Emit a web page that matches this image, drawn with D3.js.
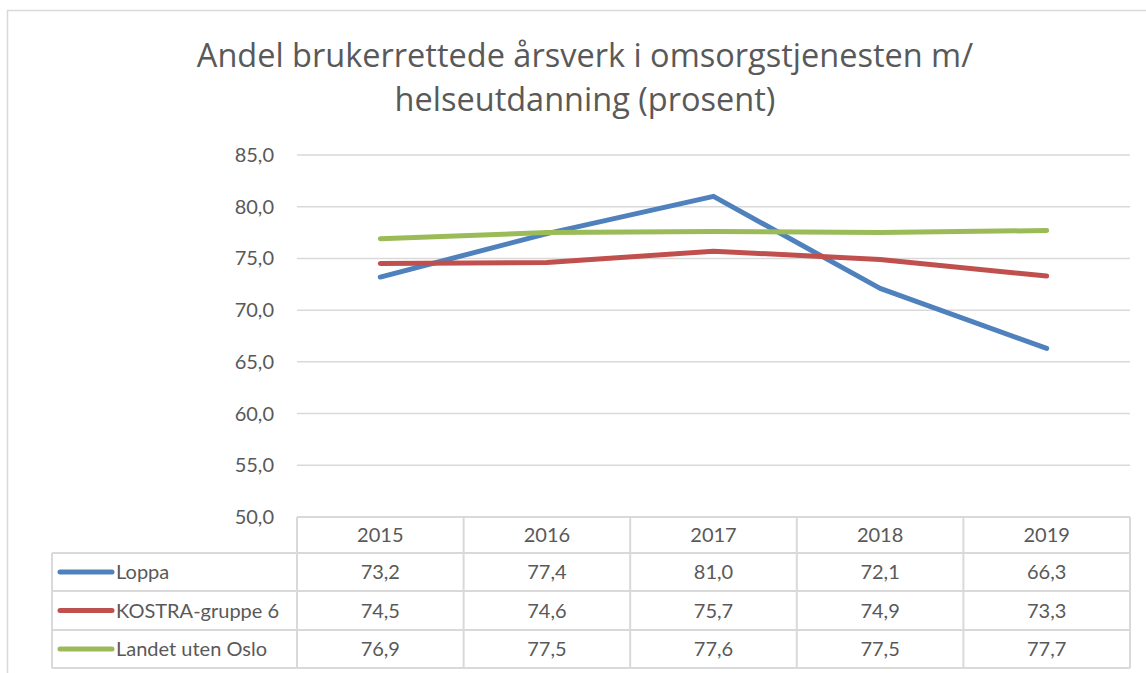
<!DOCTYPE html>
<html>
<head>
<meta charset="utf-8">
<script src="https://cdn.jsdelivr.net/npm/d3@7"></script>
<style>
  body { margin: 0; background: #fff; }
  svg { display: block; font-family: Lato, "Open Sans", sans-serif; }
</style>
</head>
<body>
<svg width="1146" height="673"></svg>
<script>
// Data ======================================================
var years = ["2015", "2016", "2017", "2018", "2019"];
var seriesNames = ["Loppa", "KOSTRA-gruppe 6", "Landet uten Oslo"];
var loppa = [73.2, 77.4, 81.0, 72.1, 66.3];
var kostra = [74.5, 74.6, 75.7, 74.9, 73.3];
var landet = [76.9, 77.5, 77.6, 77.5, 77.7];
var yTicks = [50, 55, 60, 65, 70, 75, 80, 85];
var titleLines = ["Andel brukerrettede årsverk i omsorgstjenesten m/", "helseutdanning (prosent)"];

var series = [
  { name: seriesNames[0], values: loppa, color: "#4f81bd" },
  { name: seriesNames[1], values: kostra, color: "#c0504d" },
  { name: seriesNames[2], values: landet, color: "#9bbb59" }
];

// Layout ====================================================
var svg = d3.select("svg");
var plotLeft = 297, plotRight = 1130, plotTop = 155, plotBottom = 517;
var rowH = [36, 38, 39, 38];
var tableLeft = 52;
var grey = "#d9d9d9", textCol = "#595959";
var fmt = function(v) { return d3.format(".1f")(v).replace(".", ","); };

var x = d3.scaleBand().domain(years).range([plotLeft, plotRight]);
var y = d3.scaleLinear().domain([50, 85]).range([plotBottom, plotTop]);

// chart frame
svg.append("rect")
  .attr("x", 7.5).attr("y", 10.5)
  .attr("width", 1150).attr("height", 700)
  .attr("fill", "none").attr("stroke", grey).attr("stroke-width", 1.5);

// title
svg.append("g").selectAll("text")
  .data(titleLines)
  .enter().append("text")
  .attr("x", 585)
  .attr("y", function(d, i) { return 67 + i * 44; })
  .attr("text-anchor", "middle")
  .attr("fill", textCol)
  .style("font-family", "'Open Sans', sans-serif")
  .style("font-size", "32.5px")
  .text(function(d) { return d; });

// gridlines + y labels
var yAxis = svg.append("g");
yAxis.selectAll("line")
  .data(yTicks)
  .enter().append("line")
  .attr("x1", plotLeft).attr("x2", plotRight)
  .attr("y1", function(d) { return y(d); })
  .attr("y2", function(d) { return y(d); })
  .attr("stroke", grey).attr("stroke-width", 1.5);
yAxis.selectAll("text")
  .data(yTicks)
  .enter().append("text")
  .attr("x", 274)
  .attr("y", function(d) { return y(d) + 7; })
  .attr("text-anchor", "end")
  .attr("fill", textCol)
  .style("font-size", "20px")
  .text(fmt);

// lines
var line = d3.line()
  .x(function(d, i) { return x(years[i]) + x.bandwidth() / 2; })
  .y(function(d) { return y(d); });

svg.append("g").selectAll("path")
  .data(series)
  .enter().append("path")
  .attr("d", function(d) { return line(d.values); })
  .attr("fill", "none")
  .attr("stroke", function(d) { return d.color; })
  .attr("stroke-width", 5)
  .attr("stroke-linejoin", "round")
  .attr("stroke-linecap", "round");

// data table ================================================
var rowY = [plotBottom];
rowH.forEach(function(h) { rowY.push(rowY[rowY.length - 1] + h); });

var table = svg.append("g").attr("stroke", grey).attr("stroke-width", 2).attr("fill", "none");
// header top spans plot only, the rest span the legend column too
table.append("line").attr("x1", plotLeft).attr("x2", plotRight).attr("y1", rowY[0]).attr("y2", rowY[0]);
for (var r = 1; r < rowY.length; r++) {
  table.append("line").attr("x1", tableLeft).attr("x2", plotRight).attr("y1", rowY[r]).attr("y2", rowY[r]);
}
table.append("line").attr("x1", tableLeft).attr("x2", tableLeft).attr("y1", rowY[1]).attr("y2", rowY[4]);
years.forEach(function(yr) {
  table.append("line").attr("x1", x(yr)).attr("x2", x(yr)).attr("y1", rowY[0]).attr("y2", rowY[4]);
});
table.append("line").attr("x1", plotRight).attr("x2", plotRight).attr("y1", rowY[0]).attr("y2", rowY[4]);

// header years
svg.append("g").selectAll("text")
  .data(years)
  .enter().append("text")
  .attr("x", function(d) { return x(d) + x.bandwidth() / 2; })
  .attr("y", (rowY[0] + rowY[1]) / 2 + 7)
  .attr("text-anchor", "middle")
  .attr("fill", textCol)
  .style("font-size", "20px")
  .text(function(d) { return d; });

// rows
series.forEach(function(s, i) {
  var cy = (rowY[i + 1] + rowY[i + 2]) / 2;
  var g = svg.append("g");
  g.append("line")
    .attr("x1", 60).attr("x2", 112)
    .attr("y1", cy).attr("y2", cy)
    .attr("stroke", s.color).attr("stroke-width", 5)
    .attr("stroke-linecap", "round");
  g.append("text")
    .attr("x", 116).attr("y", cy + 7)
    .attr("fill", textCol)
    .style("font-size", "20px")
    .text(s.name);
  g.selectAll("text.v")
    .data(s.values)
    .enter().append("text")
    .attr("class", "v")
    .attr("x", function(d, j) { return x(years[j]) + x.bandwidth() / 2; })
    .attr("y", cy + 7)
    .attr("text-anchor", "middle")
    .attr("fill", textCol)
    .style("font-size", "20px")
    .text(fmt);
});
</script>
</body>
</html>
